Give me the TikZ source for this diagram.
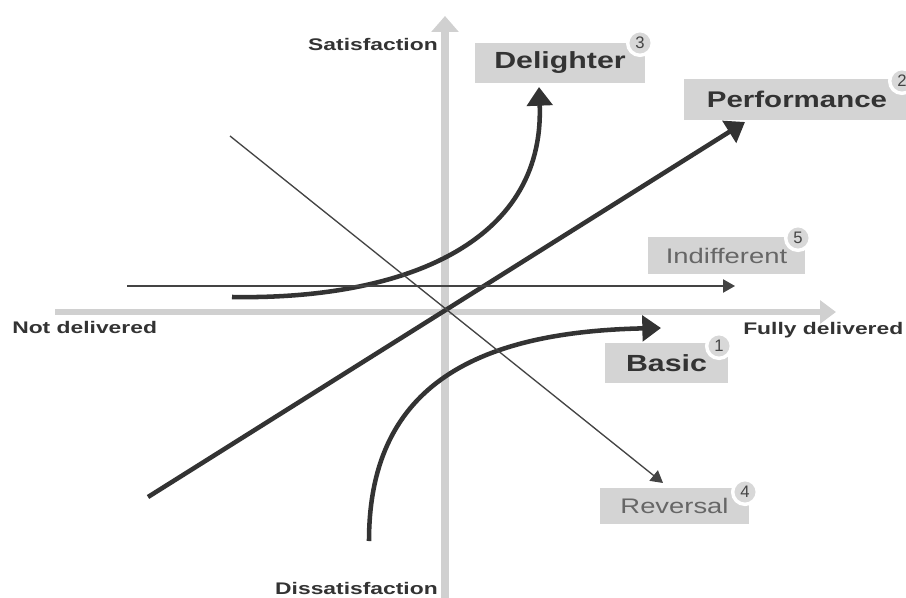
\documentclass[tikz,border=0pt]{standalone}
\usepackage{graphicx}
\usepackage{fontspec}
\setmainfont{Liberation Sans}
\usetikzlibrary{arrows.meta}
\definecolor{axisgrey}{HTML}{D0D0D0}
\definecolor{boxgrey}{HTML}{D4D4D4}
\definecolor{darkline}{HTML}{333333}
\definecolor{thinline}{HTML}{444444}
\definecolor{softtext}{HTML}{666666}
\definecolor{badgegrey}{HTML}{D8D8D8}
\newcommand\wtxt[1]{\scalebox{1.3}[1]{#1}}
\newcommand\waxis[1]{\scalebox{1.36}[1]{#1}}
\tikzset{
  axisline/.style={draw=axisgrey,-{Triangle[length=12pt,width=20pt]}},
  thickarrow/.style={draw=darkline,line width=3.4pt,-{Triangle[length=14pt,width=19pt]}},
  thinarrow/.style={draw=thinline,line width=1pt,-{Triangle[length=9pt,width=10pt]}},
  labelbox/.style={fill=boxgrey,inner sep=0pt,text=darkline,font=\fontsize{17.5pt}{20pt}\selectfont},
  softbox/.style={fill=boxgrey,inner sep=0pt,text=softtext,font=\fontsize{15.8pt}{18pt}\selectfont},
  badge/.style={circle,fill=badgegrey,draw=white,line width=2.6pt,minimum size=18.5pt,inner sep=0pt,text=thinline,font=\fontsize{12.5pt}{14pt}\selectfont},
  axislabel/.style={inner sep=0pt,text=darkline,font=\bfseries\fontsize{12.6pt}{14pt}\selectfont}
}
\begin{document}
\begin{tikzpicture}[x=0.75pt,y=-0.75pt]
\useasboundingbox[fill=white] (0,0) rectangle (906,598);
% axes
\coordinate (vbot) at (445,598);
\coordinate (vtop) at (445,16);
\coordinate (hleft) at (55,312);
\coordinate (hright) at (836,312);
\draw[axisline,line width=6pt] (vbot) -- (vtop);
\draw[axisline,line width=3.8pt,-{Triangle[length=12pt,width=17pt]}] (hleft) -- (hright);
% axis labels
\node[axislabel,anchor=east] (sat) at (438,45) {\waxis{Satisfaction}};
\node[axislabel,anchor=west] (notdel) at (12,327) {\waxis{Not delivered}};
\node[axislabel,anchor=west] (fully) at (743,330) {\waxis{Fully delivered}};
\node[axislabel,anchor=east] (dissat) at (438,588) {\waxis{Dissatisfaction}};
% boxes
\node[labelbox,font=\bfseries\fontsize{17.5pt}{20pt}\selectfont,minimum width=127.5pt,minimum height=30pt] (delighter) at (560,63) {\wtxt{Delighter}};
\node[labelbox,font=\bfseries\fontsize{17pt}{20pt}\selectfont,minimum width=169.5pt,minimum height=31pt] (performance) at (797,99.5) {\wtxt{Performance}};
\node[softbox,minimum width=117.75pt,minimum height=27.75pt] (indifferent) at (726.5,255.5) {\wtxt{Indifferent}};
\node[labelbox,font=\bfseries\fontsize{17.5pt}{20pt}\selectfont,minimum width=92.25pt,minimum height=30pt] (basic) at (666.5,363) {\wtxt{Basic}};
\node[softbox,minimum width=111.75pt,minimum height=27pt] (reversal) at (674.5,506) {\wtxt{Reversal}};
% badges
\node[badge] (b3) at (640,43) {3};
\node[badge] (b2) at (902,81) {2};
\node[badge] (b5) at (798,238) {5};
\node[badge] (b1) at (719,346) {1};
\node[badge] (b4) at (745,492) {4};
% curves and lines
\coordinate (dstart) at (232,297);
\coordinate (dend) at (539,87);
\draw[thickarrow] (dstart) .. controls (400,300) and (545,245) .. (dend);
\coordinate (pstart) at (148,497);
\coordinate (pend) at (745,122);
\draw[thickarrow] (pstart) -- (pend);
\coordinate (bstart) at (369,541);
\coordinate (bend) at (661,328);
\draw[thickarrow] (bstart) .. controls (369,390) and (470,332) .. (bend);
\coordinate (rstart) at (230,136);
\coordinate (rend) at (663,483);
\draw[thinarrow] (rstart) -- (rend);
\coordinate (istart) at (127,286);
\coordinate (iend) at (735,286);
\draw[thinarrow] (istart) -- (iend);
\end{tikzpicture}
\end{document}
